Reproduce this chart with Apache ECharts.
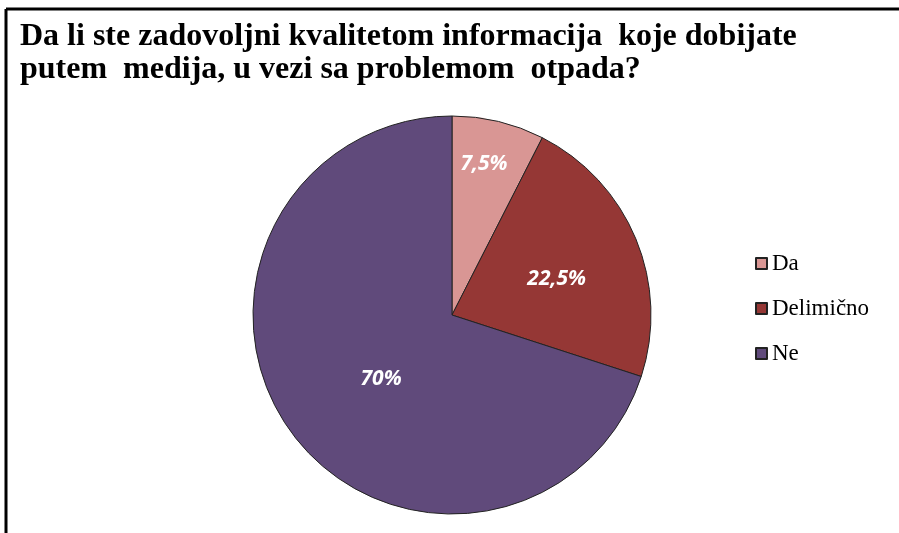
<!DOCTYPE html>
<html>
<head>
<meta charset="utf-8">
<style>
  html, body { margin: 0; padding: 0; background: #fff; }
  #chart { width: 899px; height: 533px; }
</style>
<script src="https://cdn.jsdelivr.net/npm/echarts@6/dist/echarts.min.js"></script>
</head>
<body>
<div id="chart"></div>
<script>
  // odgovori i procenti
  var categories = ['Da', 'Delimično', 'Ne'];
  var values = [7.5, 22.5, 70];
  var labels = ['7,5%', '22,5%', '70%'];
  var colors = ['#D99694', '#953735', '#604A7B'];
  var titleText = 'Da li ste zadovoljni kvalitetom informacija  koje dobijate\nputem  medija, u vezi sa problemom  otpada?';

  var chart = echarts.init(document.getElementById('chart'));

  // pomeraji natpisa unutar isecaka
  var labelOffsets = [[8, -51], [10, 3], [12, 4]];

  var pieData = [];
  for (var i = 0; i < categories.length; i++) {
    pieData.push({
      name: categories[i],
      value: values[i],
      itemStyle: { color: colors[i] },
      label: { offset: labelOffsets[i], formatter: labels[i] }
    });
  }

  var option = {
    animation: false,
    title: {
      text: titleText,
      left: 15,
      top: 15,
      textStyle: {
        fontFamily: 'Liberation Serif',
        fontWeight: 'bold',
        fontSize: 32,
        lineHeight: 33,
        color: '#000'
      }
    },
    legend: {
      orient: 'vertical',
      left: 750,
      top: 247,
      itemWidth: 11,
      itemHeight: 11,
      itemGap: 22,
      icon: 'rect',
      data: categories,
      textStyle: {
        fontFamily: 'Liberation Serif',
        fontSize: 23,
        color: '#000'
      }
    },
    graphic: [
      { type: 'line', shape: { x1: 6, y1: 9, x2: 899, y2: 9 }, style: { stroke: '#000', lineWidth: 3 } },
      { type: 'line', shape: { x1: 6, y1: 9, x2: 6, y2: 533 }, style: { stroke: '#000', lineWidth: 3 } }
    ],
    series: [
      {
        type: 'pie',
        center: [452, 315],
        radius: [0, 199],
        startAngle: 90,
        clockwise: true,
        data: pieData,
        itemStyle: { borderColor: '#222', borderWidth: 1 },
        label: {
          show: true,
          position: 'inside',
          color: '#fff',
          fontFamily: 'Open Sans',
          fontStyle: 'italic',
          fontWeight: 'bold',
          fontSize: 21
        },
        labelLine: { show: false },
        emphasis: { disabled: true }
      }
    ]
  };

  chart.setOption(option);
</script>
</body>
</html>
